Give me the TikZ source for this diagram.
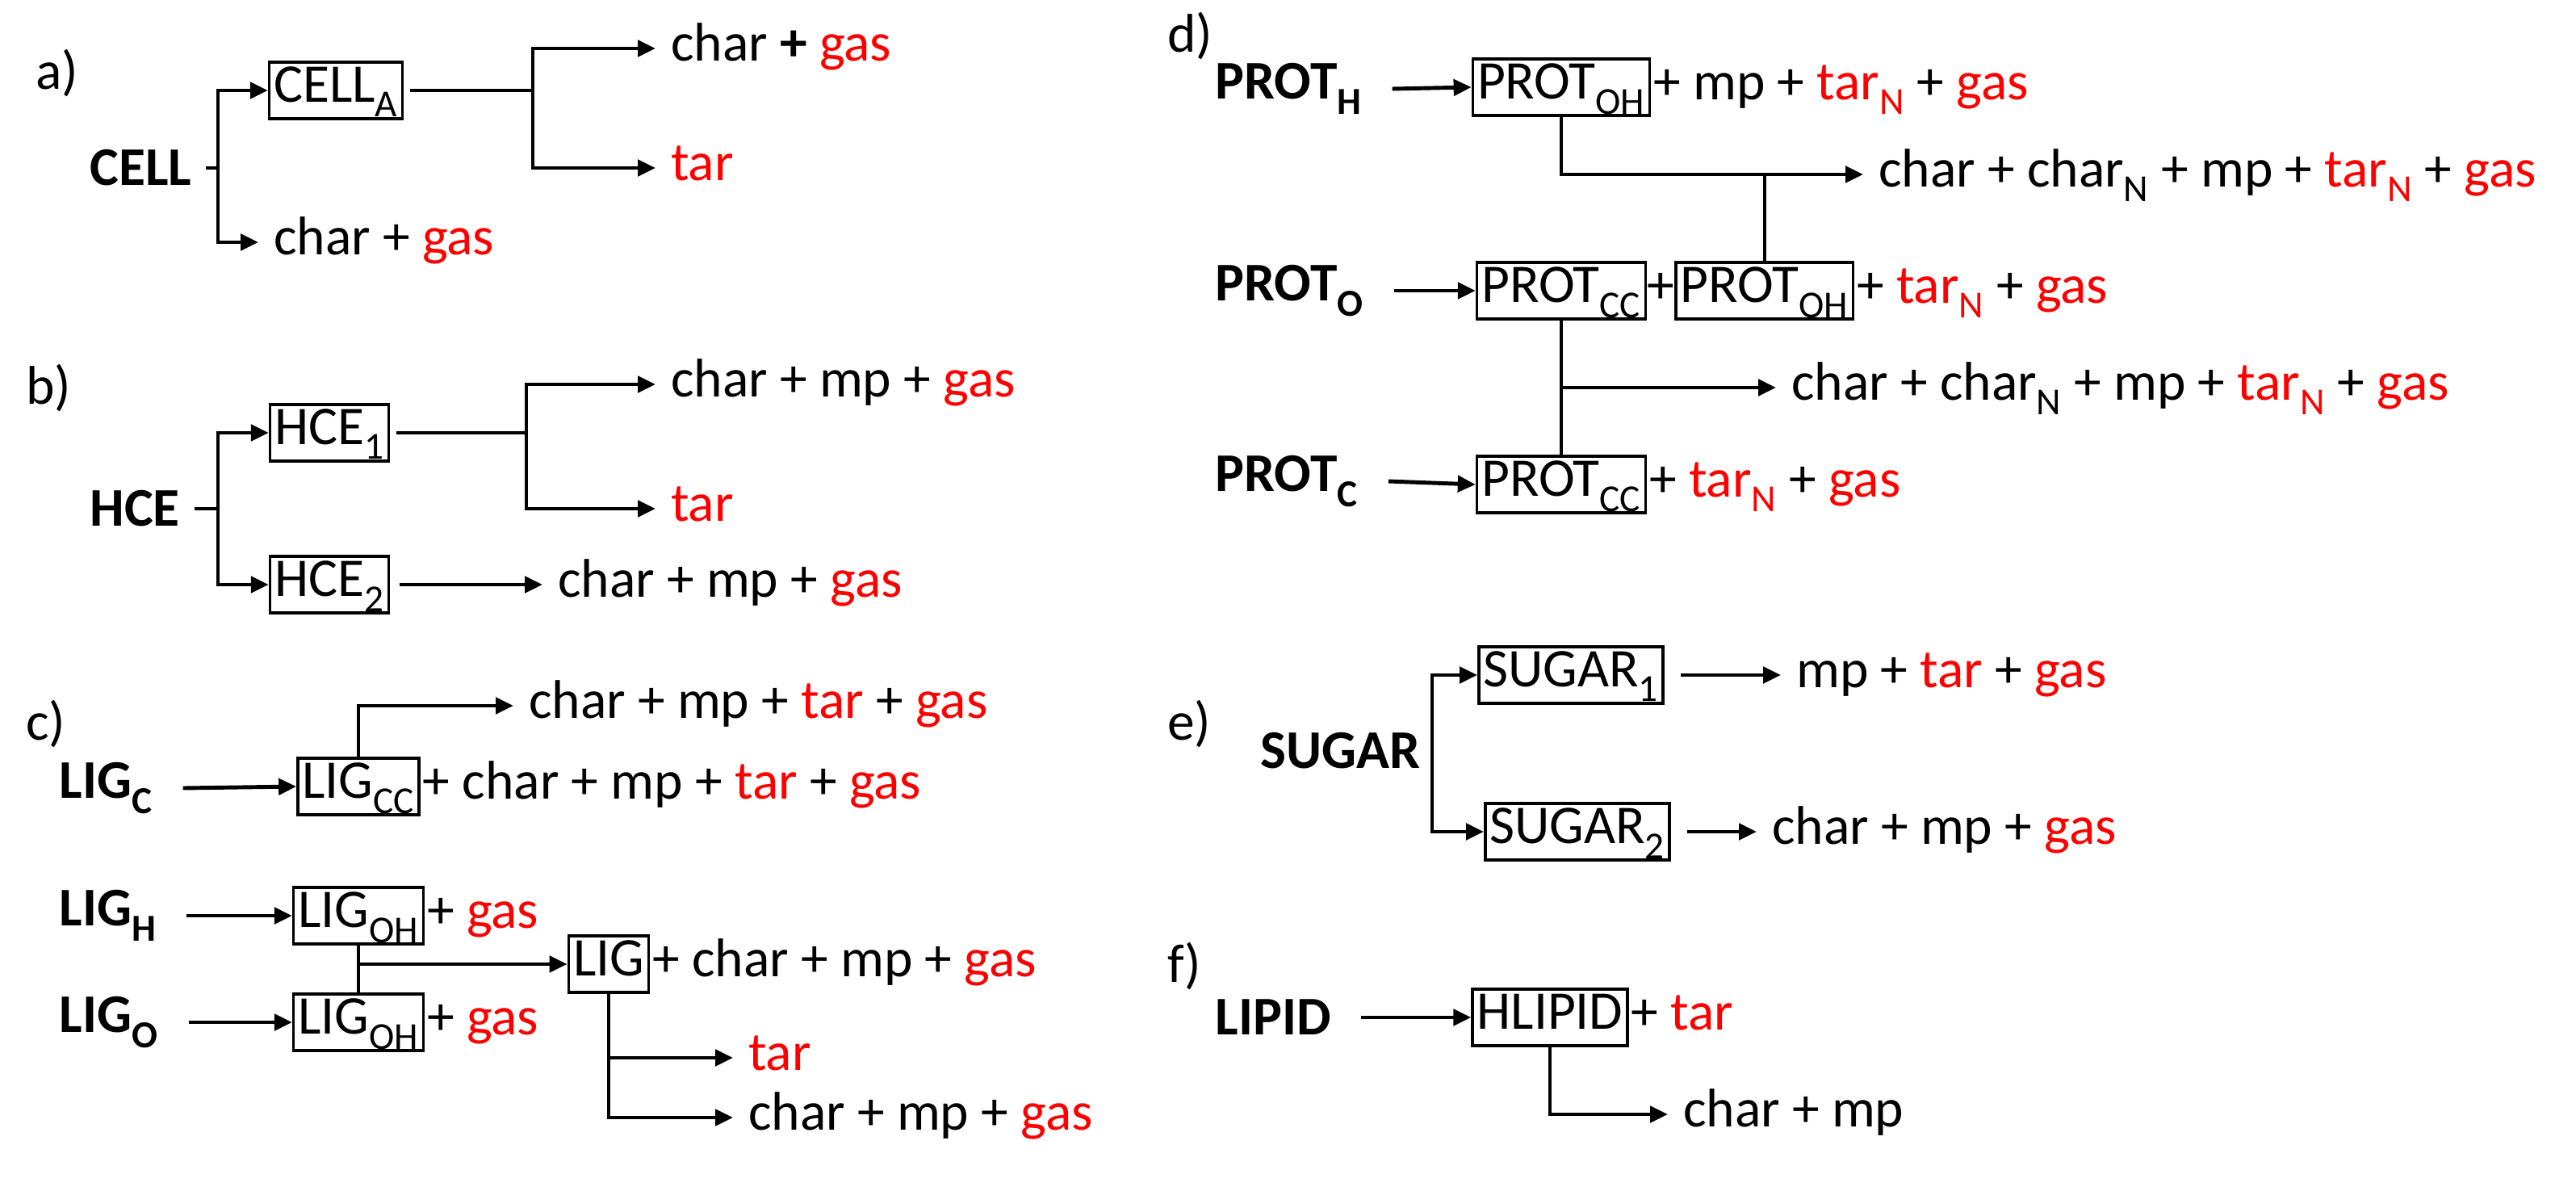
\documentclass[tikz,border=0pt]{standalone}
\usepackage{fontspec}
\setmainfont{Carlito}
\usetikzlibrary{calc,positioning,arrows.meta}
\newcommand\idx[1]{\textsubscript{#1}}
\newcommand\rd[1]{\textcolor{red}{#1}}
\newcommand\bigtext{\fontsize{48}{56}\selectfont}
\tikzset{
  species/.style={font=\bigtext\bfseries, anchor=west, inner sep=1pt},
  prod/.style={font=\bigtext, anchor=west, inner sep=2pt, text height=1.1cm, text depth=0.32cm},
  pbox/.style={font=\bigtext, draw, line width=2.5pt, inner sep=4pt, text height=1.1cm, text depth=0.38cm},
  link/.style={line width=3.5pt},
  arr/.style={line width=3.5pt, -{Triangle[length=0.55cm,width=0.5cm]}},
  totext/.style={arr, shorten >=0.4cm},
  tag/.style={font=\bigtext, anchor=west, inner sep=0pt}
}
\begin{document}
\begin{tikzpicture}[x=0.05cm, y=-0.05cm]
  \useasboundingbox (0,0) rectangle (1595.5,734.5);

  % a) cellulose
  \node [tag] at (22,45) (tag_a) {a)};
  \node [species] at (55,104) (cell) {CELL};
  \node [pbox] at (208,56) (cella) {CELL\idx{A}};
  \node [prod] at (168,150) (cell_p1) {char + \rd{gas}};
  \node [prod] at (414,30) (cella_p1) {char \textbf{+} \rd{gas}};
  \node [prod] at (414,104) (cella_p2) {\rd{tar}};
  \coordinate (cell_j) at (135,104);
  \coordinate (cella_j) at (330,56);
  \draw [link] (cell.east) ++(8,0) -- (cell_j);
  \draw [arr] (cell_j) |- (cella.west);
  \draw [totext] (cell_j) |- (cell_p1.west);
  \draw [link] (cella.east) ++(4,0) -- (cella_j);
  \draw [totext] (cella_j) |- (cella_p1.west);
  \draw [totext] (cella_j) |- (cella_p2.west);

  % b) hemicellulose
  \node [tag] at (16,240) (tag_b) {b)};
  \node [species] at (55,315) (hce) {HCE};
  \node [pbox] at (204,268) (hce1) {HCE\idx{1}};
  \node [pbox] at (204,362) (hce2) {HCE\idx{2}};
  \node [prod] at (414,238) (hce1_p1) {char + mp + \rd{gas}};
  \node [prod] at (414,315) (hce1_p2) {\rd{tar}};
  \node [prod] at (344,362) (hce2_p1) {char + mp + \rd{gas}};
  \coordinate (hce_j) at (135,315);
  \coordinate (hce1_j) at (326,268);
  \draw [link] (hce.east) ++(8,0) -- (hce_j);
  \draw [arr] (hce_j) |- (hce1.west);
  \draw [arr] (hce_j) |- (hce2.west);
  \draw [link] (hce1.east) ++(4,0) -- (hce1_j);
  \draw [totext] (hce1_j) |- (hce1_p1.west);
  \draw [totext] (hce1_j) |- (hce1_p2.west);
  \draw [totext] (hce2.east) ++(6,0) -- (hce2_p1.west);

  % c) lignin
  \node [tag] at (16,448) (tag_c) {c)};
  \node [species] at (36,488) (ligc) {LIG\idx{C}};
  \node [species] at (36,567) (ligh) {LIG\idx{H}};
  \node [species] at (36,633) (ligo) {LIG\idx{O}};
  \node [pbox] at (222,487) (ligcc) {LIG\idx{CC}};
  \node [prod, anchor=west] at (ligcc.east) (ligcc_p) {+ char + mp + \rd{tar} + \rd{gas}};
  \node [prod] at (326,437) (ligcc_p1) {char + mp + \rd{tar} + \rd{gas}};
  \node [pbox] at (222,567) (ligoh1) {LIG\idx{OH}};
  \node [prod, anchor=west] at (ligoh1.east) (ligoh1_p) {+ \rd{gas}};
  \node [pbox] at (222,633) (ligoh2) {LIG\idx{OH}};
  \node [prod, anchor=west] at (ligoh2.east) (ligoh2_p) {+ \rd{gas}};
  \node [pbox] at (377,597) (lig) {LIG};
  \node [prod, anchor=west] at (lig.east) (lig_p) {+ char + mp + \rd{gas}};
  \node [prod] at (462,655) (lig_p1) {\rd{tar}};
  \node [prod] at (462,692) (lig_p2) {char + mp + \rd{gas}};
  \coordinate (ligoh_j) at (222,597);
  \draw [arr] (ligc.east) ++(18,0) -- (ligcc.west);
  \draw [arr] (ligh.east) ++(18,0) -- (ligoh1.west);
  \draw [arr] (ligo.east) ++(18,0) -- (ligoh2.west);
  \draw [totext] (ligcc.north) |- (ligcc_p1.west);
  \draw [link] (ligoh1.south) -- (ligoh2.north);
  \draw [arr] (ligoh_j) -- (lig.west);
  \draw [totext] (lig.south) |- (lig_p1.west);
  \draw [totext] (lig.south) |- (lig_p2.west);

  % d) proteins
  \node [tag] at (723,22) (tag_d) {d)};
  \node [species] at (752,55) (proth) {PROT\idx{H}};
  \node [species] at (752,180) (proto) {PROT\idx{O}};
  \node [species] at (752,298) (protc) {PROT\idx{C}};
  \node [pbox] at (967,54) (protoh1) {PROT\idx{OH}};
  \node [prod, anchor=west] at (protoh1.east) (protoh1_p) {+ mp + \rd{tar\idx{N}} + \rd{gas}};
  \node [pbox] at (967,180) (protcc1) {PROT\idx{CC}};
  \node [prod, anchor=west, inner sep=0pt] at (protcc1.east) (plus_o) {+};
  \node [pbox, anchor=west] at (plus_o.east) (protoh2) {PROT\idx{OH}};
  \node [prod, anchor=west] at (protoh2.east) (protoh2_p) {+ \rd{tar\idx{N}} + \rd{gas}};
  \node [pbox] at (967,300) (protcc2) {PROT\idx{CC}};
  \node [prod, anchor=west] at (protcc2.east) (protcc2_p) {+ \rd{tar\idx{N}} + \rd{gas}};
  \node [prod] at (1162,108) (protoh_p1) {char + char\idx{N} + mp + \rd{tar\idx{N}} + \rd{gas}};
  \node [prod] at (1108,240) (protcc_p1) {char + char\idx{N} + mp + \rd{tar\idx{N}} + \rd{gas}};
  \draw [arr] (proth.east) ++(18,0) -- (protoh1.west);
  \draw [arr] (proto.east) ++(18,0) -- (protcc1.west);
  \draw [arr] (protc.east) ++(18,0) -- (protcc2.west);
  \draw [totext] (protoh1.south) |- (protoh_p1.west);
  \draw [link, line width=2.5pt] (protoh2.north) -- (protoh2.north |- protoh_p1.west);
  \draw [link, line width=2.5pt] (protcc1.south) -- (protcc2.north);
  \draw [totext] (protcc1.south |- protcc_p1.west) -- (protcc_p1.west);

  % e) sugars
  \node [tag] at (723,448) (tag_e) {e)};
  \node [species] at (780,465) (sugar) {SUGAR};
  \node [pbox] at (973,418) (sugar1) {SUGAR\idx{1}};
  \node [pbox] at (977,515) (sugar2) {SUGAR\idx{2}};
  \node [prod] at (1111,418) (sugar1_p) {mp + \rd{tar} + \rd{gas}};
  \node [prod] at (1096,515) (sugar2_p) {char + mp + \rd{gas}};
  \coordinate (sugar_j) at (887,465);
  \draw [link] (sugar.east) ++(6,0) -- (sugar_j);
  \draw [arr] (sugar_j) |- (sugar1.west);
  \draw [arr] (sugar_j) |- (sugar2.west);
  \draw [totext] (sugar1.east) ++(10,0) -- (sugar1_p.west);
  \draw [totext] (sugar2.east) ++(10,0) -- (sugar2_p.west);

  % f) lipids
  \node [tag] at (723,598) (tag_f) {f)};
  \node [species] at (752,630) (lipid) {LIPID};
  \node [pbox] at (960,630) (hlipid) {HLIPID};
  \node [prod, anchor=west] at (hlipid.east) (hlipid_p) {+ \rd{tar}};
  \node [prod] at (1041,690) (hlipid_p1) {char + mp};
  \draw [arr] (lipid.east) ++(18,0) -- (hlipid.west);
  \draw [totext] (hlipid.south) |- (hlipid_p1.west);
\end{tikzpicture}
\end{document}
